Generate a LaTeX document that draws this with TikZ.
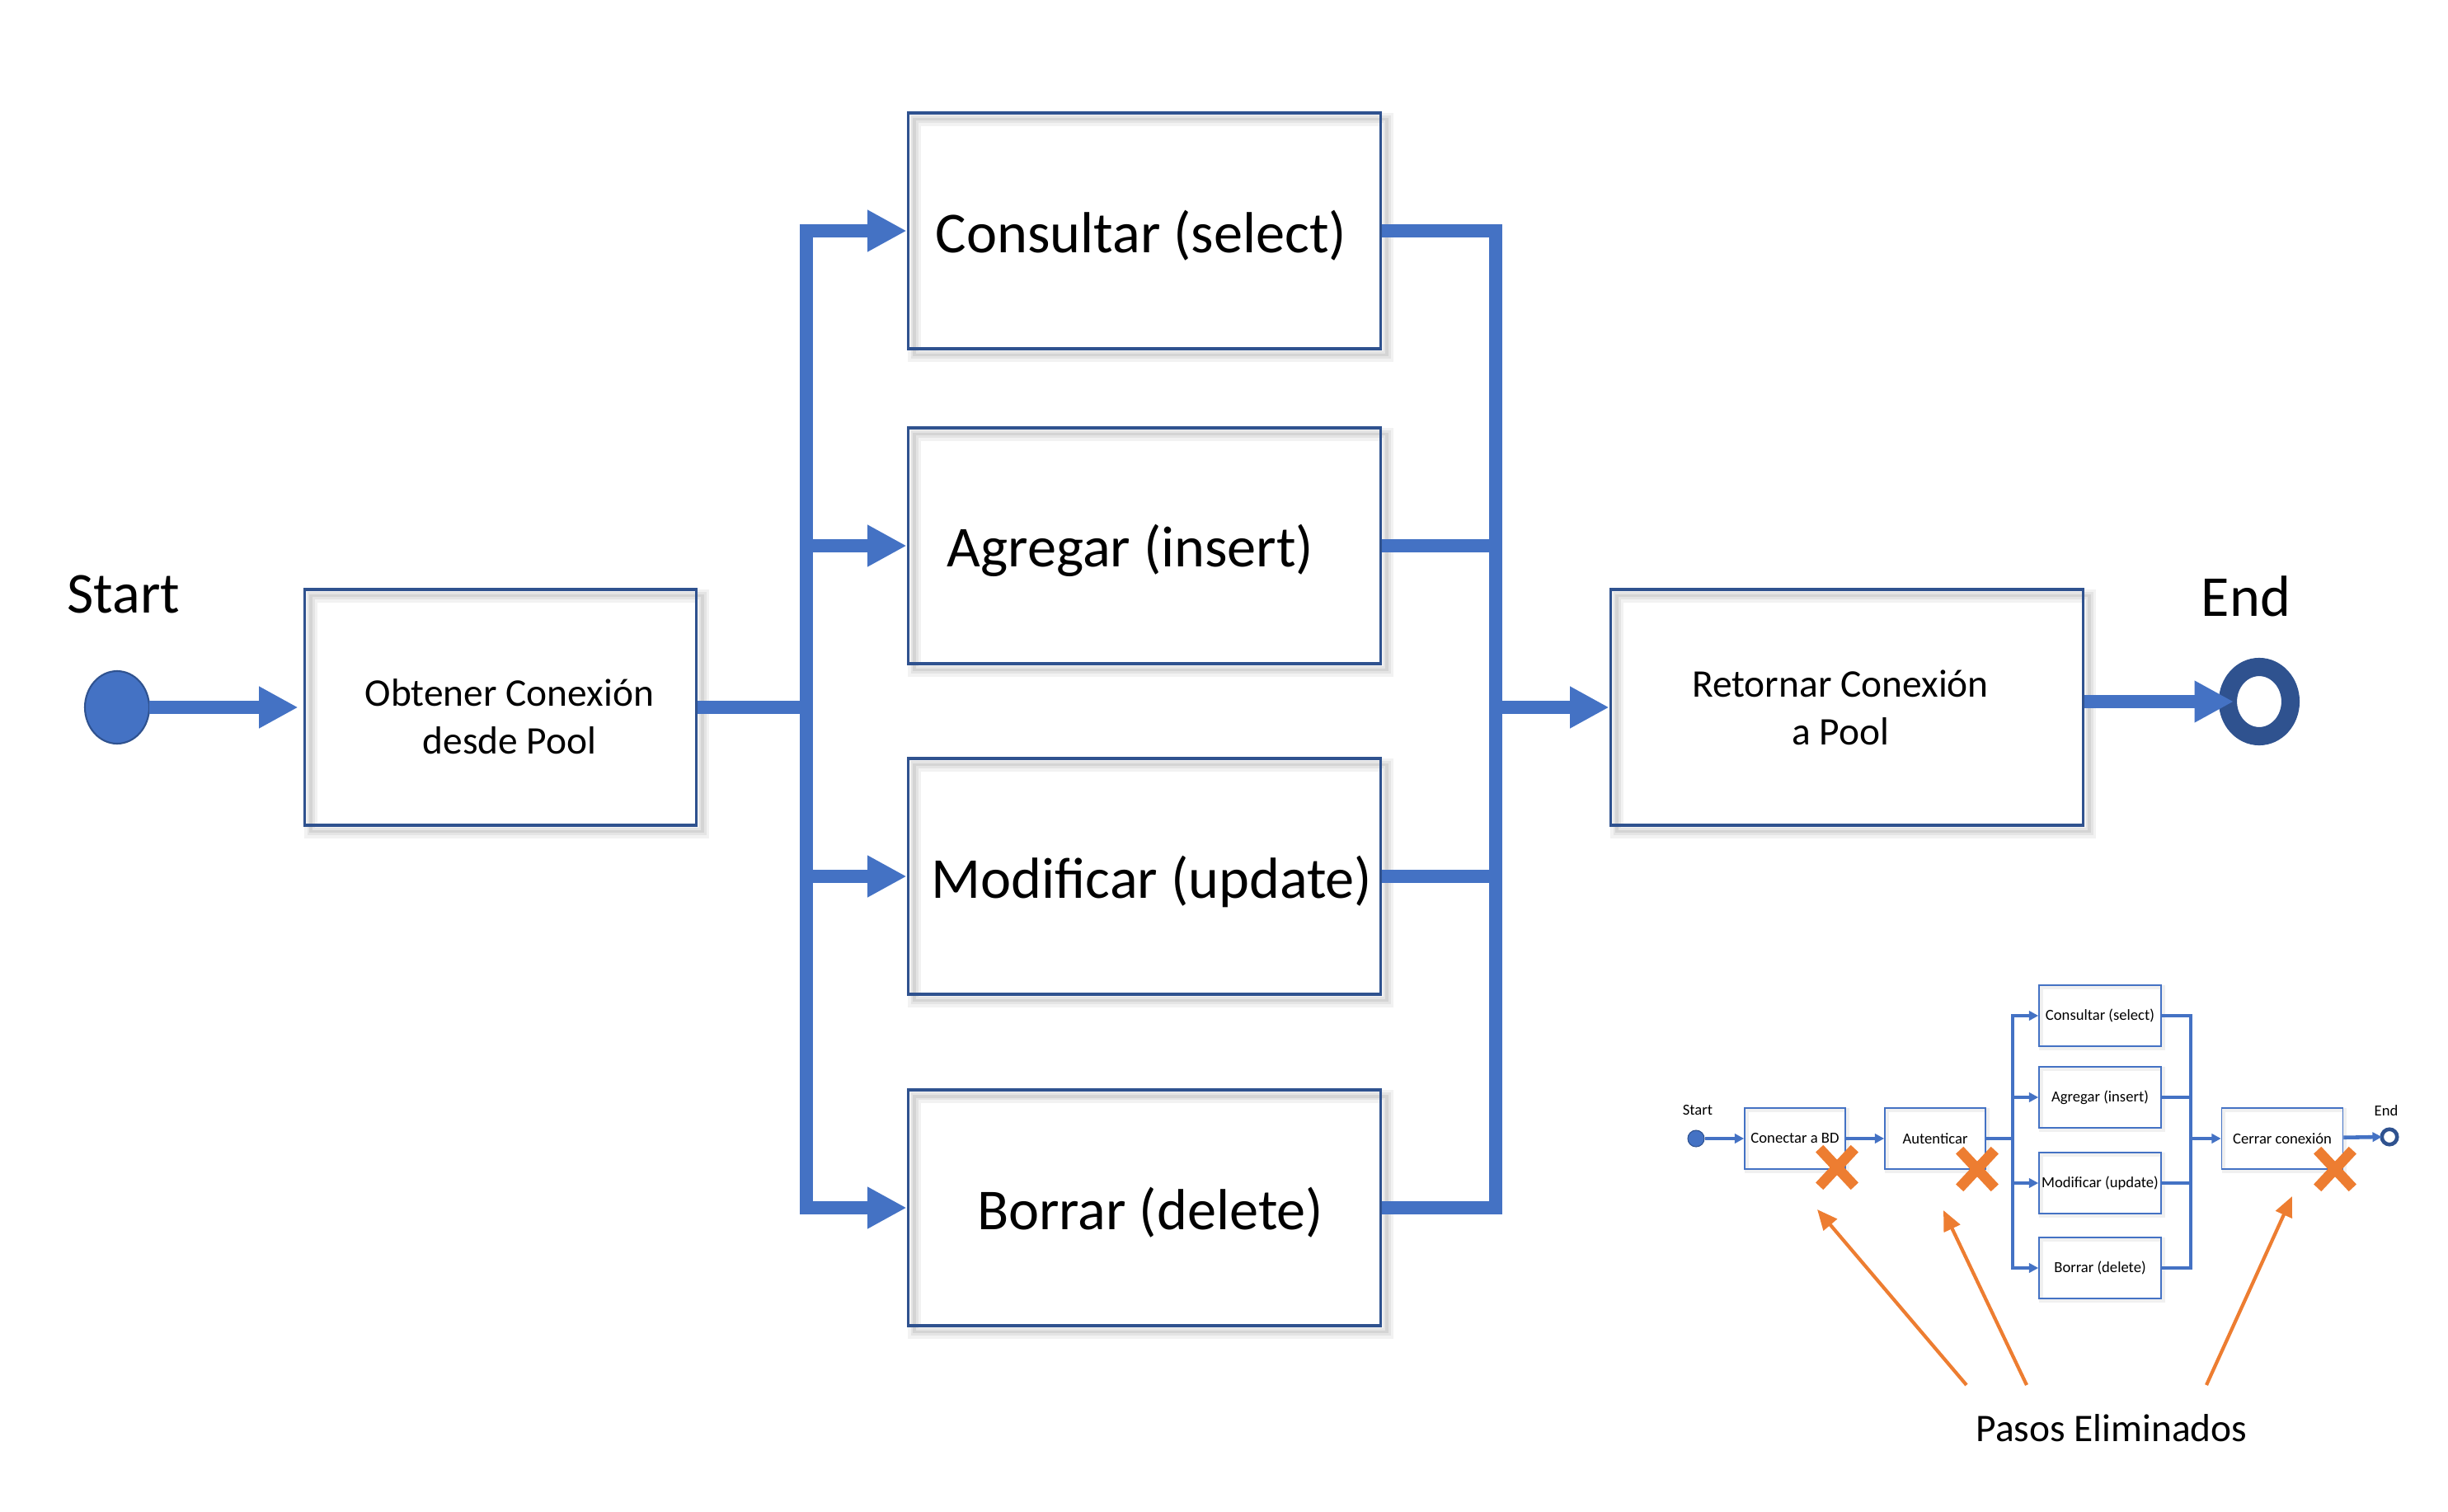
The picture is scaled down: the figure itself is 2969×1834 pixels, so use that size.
\documentclass[tikz,border=0pt]{standalone}
\usepackage{fontspec}
\setmainfont{Carlito}
\usepackage{xcolor}
\usetikzlibrary{arrows.meta,shapes.geometric,shapes.misc}
\definecolor{pptblue}{HTML}{4472C4}
\definecolor{pptdark}{HTML}{2F528F}
\definecolor{pptorange}{HTML}{ED7D31}

\begin{document}
\begin{tikzpicture}[x=0.1mm, y=-0.1mm,
    bigfont/.style={font=\fontsize{20}{24}\selectfont},
    midfont/.style={font=\fontsize{13.5}{16.5}\selectfont},
    tinyfont/.style={font=\fontsize{5.3}{6.4}\selectfont},
    outlineshadow/.style={
      preaction={draw=black, draw opacity=.05, fill=none, line width=4.5pt, transform canvas={shift={(2.2pt,-2.2pt)}}},
      preaction={draw=black, draw opacity=.06, fill=none, line width=2.6pt, transform canvas={shift={(2.2pt,-2.2pt)}}},
      preaction={draw=black, draw opacity=.07, fill=none, line width=1pt, transform canvas={shift={(2.2pt,-2.2pt)}}}},
    minishadow/.style={
      preaction={draw=black, draw opacity=.06, fill=none, line width=1.4pt, transform canvas={shift={(.7pt,-.7pt)}}}},
    stepbox/.style={rectangle, draw=pptdark, line width=1.1pt, minimum width=57.3mm, minimum height=28.6mm,
      inner sep=0pt, outlineshadow},
    bigtext/.style={bigfont, yshift=-.6mm},
    midtext/.style={midfont, align=center},
    minibox/.style={rectangle, draw=pptblue, line width=.45pt, minimum width=12.2mm, minimum height=7.4mm,
      inner sep=0pt, align=center, tinyfont, minishadow},
    flow/.style={draw=pptblue, line width=4.3pt, -{Triangle[length=13.5pt,width=13.5pt]}},
    flowline/.style={draw=pptblue, line width=4.3pt},
    miniflow/.style={draw=pptblue, line width=1.3pt, -{Triangle[length=3.2pt,width=3.2pt]}},
    miniline/.style={draw=pptblue, line width=1.3pt},
    crossmark/.style={cross out, draw=pptorange, line width=3.6pt, minimum width=3mm, minimum height=3.3mm, inner sep=0pt},
    pointer/.style={draw=pptorange, line width=1.2pt, -{Triangle[length=7pt,width=6pt]}}]

    \useasboundingbox (0,0) rectangle (2969,1834);

    % Start
    \node[bigfont, anchor=base] (starttxt) at (150,743) {Start};
    \node[ellipse, draw=pptdark, line width=.6pt, fill=pptblue, minimum width=7.8mm, minimum height=8.8mm,
      inner sep=0pt, outer sep=0pt] (startc) at (142,858) {};

    % Get connection
    \node[stepbox, minimum width=47.5mm,
      label={[midtext, xshift=1.1mm, yshift=-1.1mm]center:Obtener Conexión\\desde Pool}] (obtener) at (607,858) {};

    % Operations
    \node[stepbox, label={[bigtext, xshift=-.4mm]center:Consultar (select)}] (consultar) at (1388,280) {};
    \node[stepbox, label={[bigtext, xshift=-1.7mm]center:Agregar (insert)}] (agregar) at (1388,662) {};
    \node[stepbox, label={[bigtext, xshift=.9mm]center:Modificar (update)}] (modificar) at (1388,1063) {};
    \node[stepbox, label={[bigtext, xshift=.7mm]center:Borrar (delete)}] (borrar) at (1388,1465) {};

    % Return connection
    \node[stepbox, label={[midtext, xshift=-.8mm]center:Retornar Conexión\\a Pool}] (retornar) at (2240,858) {};

    % End
    \node[ellipse, draw=pptdark, line width=6.3pt, minimum width=7.6mm, minimum height=8.4mm,
      inner sep=0pt, outer sep=0pt] (endc) at (2740,851) {};
    \node[bigfont, anchor=base] (endtxt) at (2724,747) {End};

    % Bus lines
    \coordinate (lbus) at (978,858);
    \coordinate (rbus) at (1814,858);

    \draw[flow, shorten >=1.7pt] (startc) -- (obtener);
    \draw[flowline] (obtener) -- (lbus);
    \foreach \op in {consultar,agregar,modificar,borrar}
        \draw[flow] (lbus) |- (\op);
    \foreach \op in {consultar,agregar,modificar,borrar}
        \draw[flowline] (\op) -| (rbus);
    \draw[flow] (rbus) -- (retornar);
    \draw[flow, shorten >=-2pt] (retornar.east |- endc) -- (endc.west);

    % Small version, before
    \node[tinyfont] (sstarttxt) at (2059,1347) {Start};
    \node[circle, fill=pptblue, draw=pptdark, line width=.3pt, minimum size=2mm, inner sep=0pt] (sstart) at (2057,1381) {};
    \node[minibox] (conectar) at (2177,1381) {Conectar a BD};
    \node[minibox] (autenticar) at (2347,1381) {Autenticar};
    \node[minibox, minimum width=14.8mm] (mconsultar) at (2547,1232) {Consultar (select)};
    \node[minibox, minimum width=14.8mm] (magregar) at (2547,1331) {Agregar (insert)};
    \node[minibox, minimum width=14.8mm] (mmodificar) at (2547,1435) {Modificar (update)};
    \node[minibox, minimum width=14.8mm] (mborrar) at (2547,1538) {Borrar (delete)};
    \node[minibox, minimum width=14.7mm] (cerrar) at (2768,1381) {Cerrar conexión};
    \node[circle, draw=pptdark, line width=1.3pt, minimum size=1.85mm, inner sep=0pt, outer sep=0pt] (send) at (2898,1379) {};
    \node[tinyfont] (sendtxt) at (2894,1347) {End};

    \coordinate (mlbus) at (2441,1381);
    \coordinate (mrbus) at (2657,1381);

    \draw[miniflow] (sstart) -- (conectar);
    \draw[miniflow] (conectar) -- (autenticar);
    \draw[miniline] (autenticar) -- (mlbus);
    \foreach \m in {mconsultar,magregar,mmodificar,mborrar}
        \draw[miniflow] (mlbus) |- (\m);
    \foreach \m in {mconsultar,magregar,mmodificar,mborrar}
        \draw[miniline] (\m) -| (mrbus);
    \draw[miniflow] (mrbus) -- (cerrar);
    \draw[miniflow] (cerrar) -- (send.west);

    % Removed steps
    \node[crossmark] (xconectar) at (2228,1416) {};
    \node[crossmark] (xautenticar) at (2398,1418) {};
    \node[crossmark] (xcerrar) at (2832,1418) {};

    \node[midfont, anchor=base] (pasos) at (2561,1748) {Pasos Eliminados};
    \coordinate (tail1) at (2385,1680);
    \coordinate (tail2) at (2458,1680);
    \coordinate (tail3) at (2676,1680);
    \coordinate (tip1) at (2204,1467);
    \coordinate (tip2) at (2357,1468);
    \coordinate (tip3) at (2780,1451);
    \draw[pointer] (tail1) -- (tip1);
    \draw[pointer] (tail2) -- (tip2);
    \draw[pointer] (tail3) -- (tip3);
\end{tikzpicture}
\end{document}
